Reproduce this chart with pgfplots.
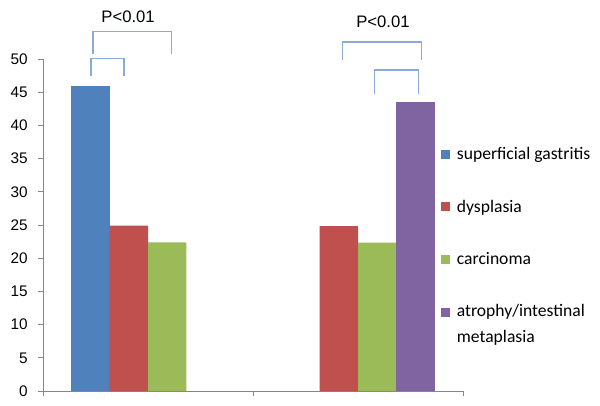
\documentclass[border=0pt]{standalone}
\usepackage{pgfplots}
\pgfplotsset{compat=1.18}
\usepackage{fontspec}
\setmainfont{Liberation Sans}
\newfontfamily\calibri{Carlito}
\definecolor{cblue}{HTML}{4F81BD}
\definecolor{cred}{HTML}{C0504D}
\definecolor{cgreen}{HTML}{9BBB59}
\definecolor{cpurple}{HTML}{8064A2}
\definecolor{axisgray}{HTML}{868686}
\definecolor{brk}{RGB}{140,170,215}
\begin{document}
\begin{tikzpicture}
\useasboundingbox (-32.25pt,-10.5pt) rectangle (417.75pt,293.25pt);
\begin{axis}[
  scale only axis, width=315pt, height=249pt,
  xmin=-0.5, xmax=1.5, ymin=0, ymax=50,
  ybar, bar width=0.1825,
  axis lines*=left,
  axis line style={draw=axisgray,-},
  xtick={-0.5,0.5,1.5}, xticklabels={},
  ytick={0,5,...,50},
  tick align=outside, major tick length=4pt,
  tick style={draw=axisgray, line width=0.6pt},
  /pgf/number format/assume math mode=true,
  yticklabel style={font=\fontsize{11.5}{13}\selectfont, xshift=-4pt},
  clip=false,
  legend cell align=left,
  legend style={draw=none, fill=none, at={(0.948,0.742)}, anchor=north west,
    font=\calibri\fontsize{13.2}{15}\selectfont,
    row sep=24.5pt, inner sep=0pt,
    nodes={inner xsep=4.8pt, align=left}},
  legend image code/.code={\fill[#1] (0pt,-3.4pt) rectangle (6.8pt,3.4pt);},
]
\addplot[fill=cblue, draw=none, bar shift=-0.27375] coordinates {(0,46.0)};
\addplot[fill=cred, draw=none, bar shift=-0.09125] coordinates {(0,24.9) (1,24.85)};
\addplot[fill=cgreen, draw=none, bar shift=0.09125] coordinates {(0,22.4) (1,22.35)};
\addplot[fill=cpurple, draw=none, bar shift=0.27375,
  legend image code/.code={\path[draw=none,fill=none] (0pt,-12.2pt) rectangle (6.8pt,12.2pt);
    \fill[cpurple] (0pt,5.4pt) rectangle (6.8pt,12.2pt);}] coordinates {(1,43.5)};
\legend{superficial gastritis, dysplasia, carcinoma, {atrophy/intestinal\\[4.5pt]metaplasia}}
% significance brackets
\draw[brk, line width=0.9pt] (axis cs:-0.271,47.4) -- (axis cs:-0.271,50.08) -- (axis cs:-0.114,50.08) -- (axis cs:-0.114,47.4);
\draw[brk, line width=0.9pt] (axis cs:-0.262,50.75) -- (axis cs:-0.262,54.2) -- (axis cs:0.110,54.2) -- (axis cs:0.110,50.75);
\node[font=\fontsize{12.5}{14}\selectfont] at (axis cs:-0.095,56.3) {P<0.01};
\draw[brk, line width=0.9pt] (axis cs:0.927,49.85) -- (axis cs:0.927,52.56) -- (axis cs:1.303,52.56) -- (axis cs:1.303,49.85);
\draw[brk, line width=0.9pt] (axis cs:1.080,44.73) -- (axis cs:1.080,48.34) -- (axis cs:1.289,48.34) -- (axis cs:1.289,44.73);
\node[font=\fontsize{12.5}{14}\selectfont] at (axis cs:1.119,55.6) {P<0.01};
\end{axis}
\end{tikzpicture}
\end{document}
